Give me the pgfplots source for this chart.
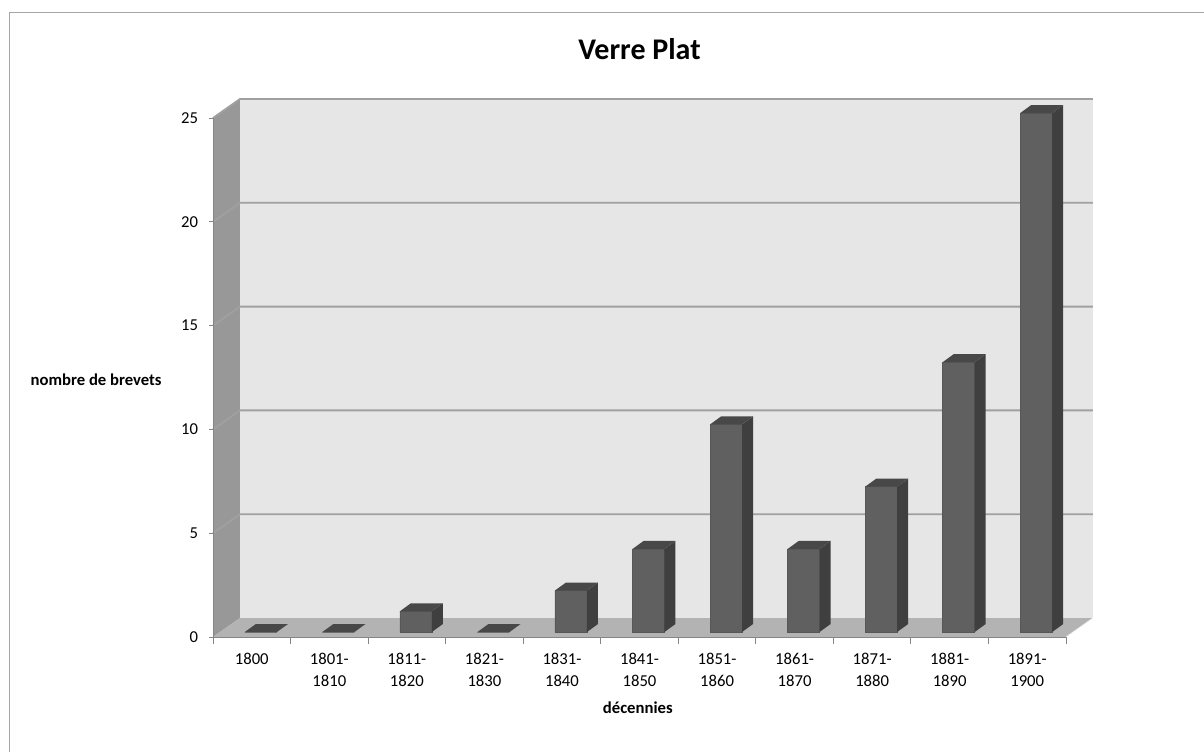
\documentclass[border=0pt]{standalone}
\usepackage{fontspec}
\setmainfont{Carlito}
\usepackage{pgfplots}
\usepackage{pgfplotstable}
\pgfplotsset{compat=1.18}

\definecolor{wallback}{HTML}{E6E6E6}
\definecolor{wallleft}{HTML}{989898}
\definecolor{floorc}{HTML}{B3B3B3}
\definecolor{gridc}{HTML}{A0A0A0}
\definecolor{barfront}{HTML}{606060}
\definecolor{baredge}{HTML}{575757}
\definecolor{barside}{HTML}{3F3F3F}
\definecolor{bartop}{HTML}{484848}
\definecolor{axisc}{HTML}{868686}
\definecolor{framec}{HTML}{A6A6A6}

% brevets par decennie
\pgfplotstableread{
x n
0 0
1 0
2 1
3 0
4 2
5 4
6 10
7 4
8 7
9 13
10 25
}\brevets

% 3D look (axis units)
\def\wx{0.348}  % wall depth, x
\def\wy{0.915}  % wall depth, y
\def\bl{-0.090} % bar front left, from category centre
\def\br{0.322}  % bar front right
\def\by{0.24}   % bar base
\def\dx{0.142}  % bar depth, x
\def\dy{0.385}  % bar depth, y

\begin{document}
\begin{tikzpicture}
\useasboundingbox (0,0) rectangle (722.4pt,450.6pt);
\draw[framec, line width=0.9pt] (5.7pt,-5pt) -- (5.7pt,443pt) -- (730pt,443pt);
\begin{axis}[
    at={(127.8pt,68.4pt)}, anchor=south west,
    width=511.8pt, height=311.4pt, scale only axis,
    xmin=-0.5, xmax=10.5, ymin=0, ymax=25,
    clip=false, axis on top=true,
    axis x line*=bottom, axis y line*=left,
    axis line style={draw=axisc, line width=0.6pt},
    tick align=outside,
    major tick length=2.4pt, minor tick length=4.2pt,
    ytick={0,5,...,25},
    xtick={0,...,10},
    xticklabels={1800,{1801-\\1810},{1811-\\1820},{1821-\\1830},{1831-\\1840},{1841-\\1850},{1851-\\1860},{1861-\\1870},{1871-\\1880},{1881-\\1890},{1891-\\1900}},
    minor xtick={-0.5,0.5,...,10.5},
    major x tick style={draw=none},
    minor x tick style={draw=axisc, line width=0.6pt},
    major y tick style={draw=axisc, line width=0.6pt},
    /pgf/number format/assume math mode=true,
    ticklabel style={font=\fontsize{10}{12.5}\selectfont},
    xticklabel style={align=center, font=\fontsize{10}{13}\selectfont, yshift=-4pt},
    yticklabel style={xshift=-3pt},
    title={Verre Plat},
    title style={font=\fontsize{18}{22}\selectfont\bfseries, at={(axis description cs:0.5,1.114)}, anchor=center},
    xlabel={décennies},
    ylabel={nombre de brevets},
    every axis x label/.style={at={(axis description cs:0.498,-0.137)}, anchor=center, font=\fontsize{10}{12}\selectfont\bfseries},
    every axis y label/.style={at={(axis description cs:-0.137,0.495)}, anchor=center, font=\fontsize{10}{12}\selectfont\bfseries},
]
% walls and floor
\fill[wallleft] (axis cs:-0.5,0) -- (axis cs:-0.5+\wx,\wy) -- (axis cs:-0.5+\wx,25+\wy) -- (axis cs:-0.5,25) -- cycle;
\fill[wallback] (axis cs:-0.5+\wx,\wy) -- (axis cs:10.5+\wx,\wy) -- (axis cs:10.5+\wx,25+\wy) -- (axis cs:-0.5+\wx,25+\wy) -- cycle;
\fill[floorc] (axis cs:-0.5,0) -- (axis cs:10.5,0) -- (axis cs:10.5+\wx,\wy) -- (axis cs:-0.5+\wx,\wy) -- cycle;
\draw[white!80!floorc, line width=0.5pt] (axis cs:10.5,0) -- (axis cs:10.5+\wx,\wy);
\pgfplotsinvokeforeach{5,10,...,25}{
  \draw[gridc, line width=1.1pt] (axis cs:-0.5,#1) -- (axis cs:-0.5+\wx,#1+\wy) -- (axis cs:10.5+\wx,#1+\wy);
}

% front faces of the columns
\addplot[ybar, bar width=0.4125, bar shift=0.116, yshift=3pt,
         fill=barfront, draw=baredge, line width=0.4pt]
    table[x=x, y=n] {\brevets};

% top and side faces
\pgfplotsinvokeforeach{0,...,10}{
  \pgfplotstablegetelem{#1}{n}\of\brevets
  \pgfmathsetmacro\xl{#1+\bl}
  \pgfmathsetmacro\xr{#1+\br}
  \pgfmathsetmacro\yt{\pgfplotsretval+\by}
  \pgfmathsetmacro\xlb{\xl+\dx}
  \pgfmathsetmacro\xrb{\xr+\dx}
  \pgfmathsetmacro\ytb{\yt+\dy}
  \pgfmathsetmacro\ybb{\by+\dy}
  \edef\temp{%
    \noexpand\fill[barside] (axis cs:\xr,\by) -- (axis cs:\xrb,\ybb) -- (axis cs:\xrb,\ytb) -- (axis cs:\xr,\yt) -- cycle;
    \noexpand\fill[bartop] (axis cs:\xl,\yt) -- (axis cs:\xlb,\ytb) -- (axis cs:\xrb,\ytb) -- (axis cs:\xr,\yt) -- cycle;
  }\temp
}
\end{axis}
\end{tikzpicture}
\end{document}
